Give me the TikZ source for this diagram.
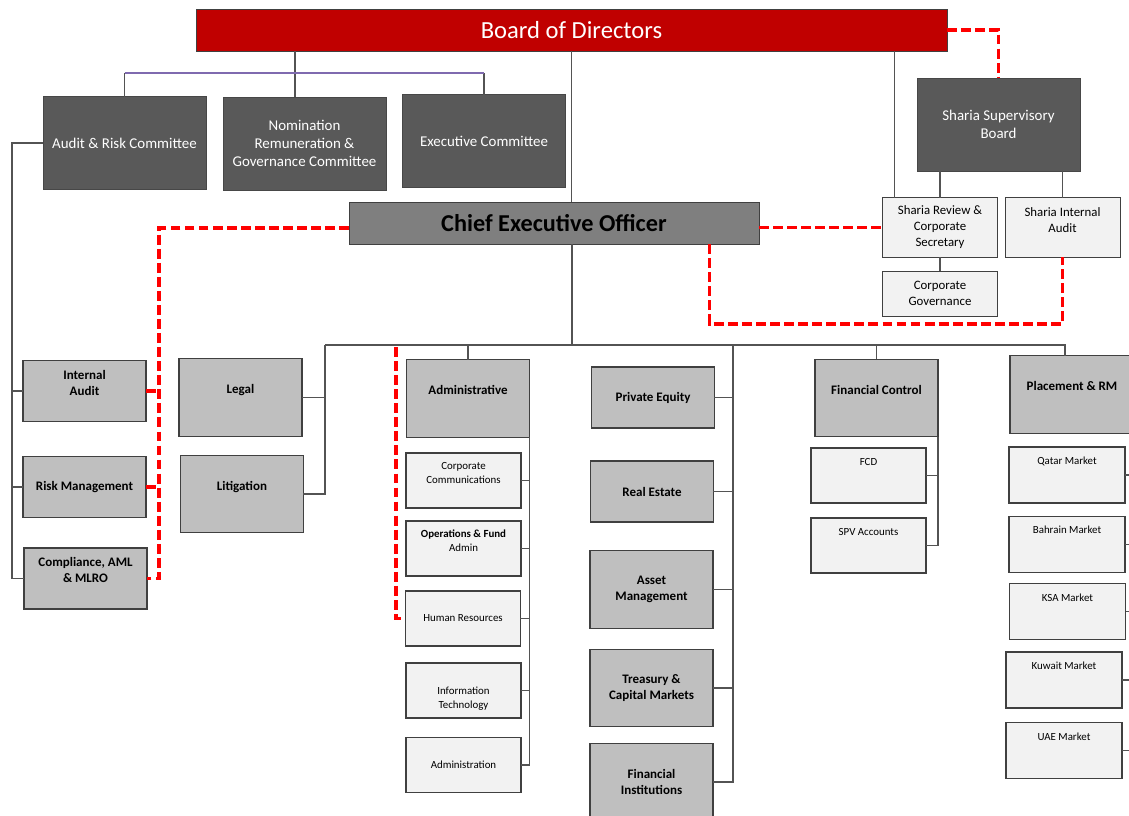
\documentclass[tikz,border=0pt]{standalone}
\usepackage{fontspec}
\setmainfont{Carlito}

\definecolor{bodred}{HTML}{C00000}
\definecolor{cmtegray}{HTML}{595959}
\definecolor{ceogray}{HTML}{7F7F7F}
\definecolor{deptgray}{HTML}{BFBFBF}
\definecolor{unitgray}{HTML}{F2F2F2}
\definecolor{linegray}{HTML}{404040}
\definecolor{rulepurple}{HTML}{7F6AAF}
\definecolor{dashred}{HTML}{FF0000}

% text raised (tup) or lowered (tdn) inside its box
\newcommand{\tup}[2]{\raisebox{0pt}[\height][\dimexpr\depth+#1\relax]{\begin{tabular}{@{}c@{}}#2\end{tabular}}}
\newcommand{\tdn}[2]{\raisebox{0pt}[\dimexpr\height+#1\relax][\depth]{\begin{tabular}{@{}c@{}}#2\end{tabular}}}

\begin{document}
\begin{tikzpicture}[x=0.02cm,y=-0.02cm,inner sep=0pt,outer sep=0pt,align=center]
          \tikzstyle{bod}=[draw=linegray,fill=bodred,text=white,minimum width=15.02cm,minimum height=0.84cm,font=\fontsize{14}{16}\selectfont]
          \tikzstyle{cmte}=[draw=cmtegray!80!black,fill=cmtegray,text=white,minimum width=3.26cm,minimum height=1.86cm,font=\fontsize{8.5}{10.2}\selectfont]
          \tikzstyle{ceo}=[draw=linegray,fill=ceogray,text=black,minimum width=8.2cm,minimum height=0.84cm,font=\bfseries\fontsize{13.8}{16}\selectfont]
          \tikzstyle{shar}=[draw=linegray,fill=unitgray,minimum width=2.3cm,minimum height=1.2cm,font=\fontsize{7.3}{9.1}\selectfont]
          \tikzstyle{dept}=[draw=linegray,line width=0.8pt,fill=deptgray,minimum width=2.46cm,minimum height=1.22cm,font=\bfseries\fontsize{7.4}{9}\selectfont]
          \tikzstyle{tall}=[minimum height=1.55cm]
          \tikzstyle{unit}=[draw=linegray,line width=0.8pt,fill=unitgray,minimum width=2.3cm,minimum height=1.1cm,font=\fontsize{6.2}{8}\selectfont]
          \tikzstyle{mkt}=[minimum width=2.32cm,minimum height=1.12cm]
          \tikzstyle{lnk}=[draw=linegray!90,line width=0.7pt]
          \tikzstyle{purp}=[draw=rulepurple,line width=0.8pt]
          \tikzstyle{dsh}=[draw=dashred,line width=1.8pt,dash pattern=on 5.6pt off 2.4pt]

          \useasboundingbox (0,0) rectangle (1129,815);

          % board level
          \node[bod]  (bod)  at (571.5,30)   {Board of Directors};
          \node[cmte] (arc)  at (124.5,143)  {Audit \& Risk Committee};
          \node[cmte] (nrgc) at (304.5,143.5) {Nomination\\Remuneration \&\\Governance Committee};
          \node[cmte] (exco) at (484,141)    {Executive Committee};
          \node[cmte] (ssb)  at (998.5,124.5) {Sharia Supervisory\\Board};
          \node[ceo]  (ceo)  at (554,223)    {Chief Executive Officer};
          \node[shar] (srcs) at (940,227.5)  {Sharia Review \&\\Corporate\\Secretary};
          \node[shar] (sia)  at (1062.5,227.5) {\tup{7.4pt}{Sharia Internal\\Audit}};
          \node[shar,minimum height=0.9cm] (cg) at (940,293.5) {Corporate\\Governance};

          % control functions
          \node[dept] (ia)  at (84.5,391)   {\tup{8pt}{Internal\\Audit}};
          \node[dept] (rm)  at (84.5,487)   {Risk Management};
          \node[dept] (cmp) at (85.5,578.5) {\tup{8.5pt}{Compliance, AML\\\& MLRO}};
          \node[dept,tall] (legal) at (240.5,397.5) {\tup{8.5pt}{Legal}};
          \node[dept,tall] (litig) at (242,494)     {\tup{8pt}{Litigation}};

          % administrative
          \node[dept,tall] (adm) at (468,398.5) {\tup{8.5pt}{Administrative}};
          \node[unit] (ccom) at (463.5,480.5) {\tup{7.4pt}{Corporate\\Communications}};
          \node[unit] (ops)  at (463.5,548.5) {\tup{8pt}{\textbf{Operations \& Fund}\\Admin}};
          \node[unit] (hr)   at (463,618.5)   {Human Resources};
          \node[unit] (it)   at (463.5,690.5) {\tdn{9pt}{Information\\Technology}};
          \node[unit] (admn) at (463.5,765)   {Administration};

          % business lines
          \node[dept] (pe)       at (653,397.5)   {Private Equity};
          \node[dept] (re)       at (652,491.5)   {Real Estate};
          \node[dept,tall] (am)  at (651.5,589.5) {Asset\\Management};
          \node[dept,tall] (tcm) at (651.5,688)   {Treasury \&\\Capital Markets};
          \node[dept,tall] (fi)  at (651.5,782)   {Financial\\Institutions};

          % finance
          \node[dept,tall] (fc) at (876.5,398) {\tup{8pt}{Financial Control}};
          \node[unit] (fcd) at (868.5,475.5) {\tup{15pt}{FCD}};
          \node[unit] (spv) at (868.5,545.5) {\tup{15pt}{SPV Accounts}};

          % placement
          \node[dept,tall,minimum width=2.48cm] (prm) at (1072,394.5) {\tup{8.5pt}{Placement \& RM}};
          \node[unit,mkt] (qat) at (1067,475)     {\tup{15pt}{Qatar Market}};
          \node[unit,mkt] (bah) at (1067,544.5)   {\tup{16pt}{Bahrain Market}};
          \node[unit,mkt] (ksa) at (1067.5,611.5) {\tup{15pt}{KSA Market}};
          \node[unit,mkt] (kuw) at (1064,680)     {\tup{15pt}{Kuwait Market}};
          \node[unit,mkt] (uae) at (1064,750.5)   {\tup{15pt}{UAE Market}};

          % reporting lines
          \coordinate (cbus) at (295,73);
          \draw[lnk] (bod.south -| cbus) -- (nrgc.north -| cbus);
          \draw[lnk] (arc.north) -- (arc.north |- cbus);
          \draw[lnk] (exco.north) -- (exco.north |- cbus);
          \draw[purp] (arc.north |- cbus) -- (exco.north |- cbus);

          \coordinate (lrail) at (12,143);
          \draw[lnk] (arc.west) -- (lrail) |- (cmp.west);
          \foreach \n in {ia,rm}
            \draw[lnk] (\n.west -| lrail) -- (\n.west);

          \coordinate (bus) at (572,345);
          \coordinate (lrl) at (325,345);
          \coordinate (mrl) at (733,345);
          \coordinate (prx) at (1065,345);
          \draw[lnk] (bod.south) -- (ceo.north -| bod.south);
          \draw[lnk] (ceo.south -| bus) -- (bus);
          \draw[lnk] (lrl) -- (prx) -- (prx |- prm.north);
          \draw[lnk] (lrl) |- (litig.east);
          \draw[lnk] (legal.east) -- (legal.east -| lrl);
          \draw[lnk] (adm.north |- bus) -- (adm.north);
          \draw[lnk] (adm.south east) |- (admn.east);
          \foreach \n in {ccom,ops,hr,it}
            \draw[lnk] (\n.east) -- (\n.east -| adm.south east);
          \draw[lnk] (mrl) |- (fi.east);
          \foreach \n in {pe,re,am,tcm}
            \draw[lnk] (\n.east) -- (\n.east -| mrl);
          \draw[lnk] (fc.north |- bus) -- (fc.north);
          \draw[lnk] (fc.south east) |- (spv.east);
          \draw[lnk] (fcd.east) -- (fcd.east -| fc.south east);
          \coordinate (prail) at (1134,0);
          \foreach \n in {qat,bah,ksa,kuw,uae}
            \draw[lnk] (\n.east) -- (\n.east -| prail);

          % sharia
          \coordinate (sx) at (894.5,0);
          \draw[lnk] (bod.south -| sx) -- (srcs.north -| sx);
          \draw[lnk] (ssb.south -| srcs.north) -- (srcs.north);
          \draw[lnk] (ssb.south -| sia.north) -- (sia.north);
          \draw[lnk] (srcs.south) -- (cg.north);

          % dotted reporting
          \draw[dsh] (bod.east) -| (ssb.north);
          \draw[dsh] (ceo.east |- srcs.west) -- (srcs.west);
          \coordinate (dlow) at (709.5,324);
          \draw[dsh] (ceo.south -| dlow) -- (dlow) -| (sia.south);
          \coordinate (dl) at (159,228);
          \draw[dsh] (ceo.west |- dl) -- (dl) |- (cmp.east);
          \foreach \n in {ia,rm}
            \draw[dsh] (\n.east) -- (\n.east -| dl);
          \coordinate (dadm) at (396,347);
          \draw[dsh] (dadm) |- (hr.west);
        \end{tikzpicture}
\end{document}
